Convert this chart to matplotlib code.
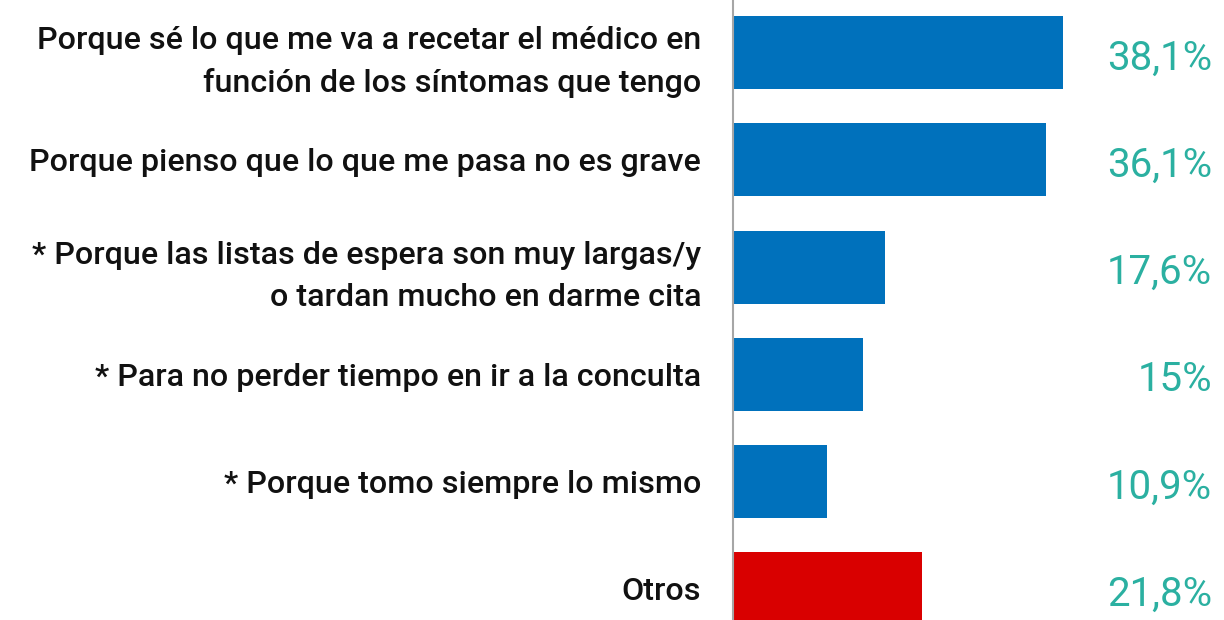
import matplotlib
matplotlib.use('Agg')
import matplotlib.pyplot as plt
from matplotlib.transforms import blended_transform_factory

# datos
categorias = [
    'Porque sé lo que me va a recetar el médico en\nfunción de los síntomas que tengo',
    'Porque pienso que lo que me pasa no es grave',
    '* Porque las listas de espera son muy largas/y\no tardan mucho en darme cita',
    '* Para no perder tiempo en ir a la conculta',
    '* Porque tomo siempre lo mismo',
    'Otros',
]
valores = [38.1, 36.1, 17.6, 15.0, 10.9, 21.8]
etiquetas = ['38,1%', '36,1%', '17,6%', '15%', '10,9%', '21,8%']
colores = ['#0071bc', '#0071bc', '#0071bc', '#0071bc', '#0071bc', '#d90000']

W, H = 1224, 620
fig = plt.figure(figsize=(W / 100, H / 100), dpi=100)
ax = fig.add_axes([733 / W, 0, (W - 733) / W, 1])

pos = list(range(len(valores)))
ax.barh(pos, valores, height=0.68, color=colores)

ax.set_xlim(0, (W - 733) / 8.66)
ax.set_ylim(5.29, -0.49)

for s in ['top', 'right', 'bottom']:
    ax.spines[s].set_visible(False)
ax.spines['left'].set_color('#a6a6a6')
ax.spines['left'].set_linewidth(1.5)
ax.set_xticks([])

ax.set_yticks(pos)
ax.set_yticklabels(categorias, fontsize=23.2, color='#111111',
                   family=['Roboto', 'DejaVu Sans'], fontweight='medium',
                   linespacing=1.55)
ax.tick_params(axis='y', length=0, pad=23)

tr = blended_transform_factory(ax.transAxes, ax.transData)
for p, txt in zip(pos, etiquetas):
    ax.text(0.9756, p + 0.05, txt, transform=tr, ha='right', va='center',
            fontsize=29, color='#2bb0a1',
            family=['Roboto', 'DejaVu Sans'])

fig.savefig('out.png', dpi=100)
